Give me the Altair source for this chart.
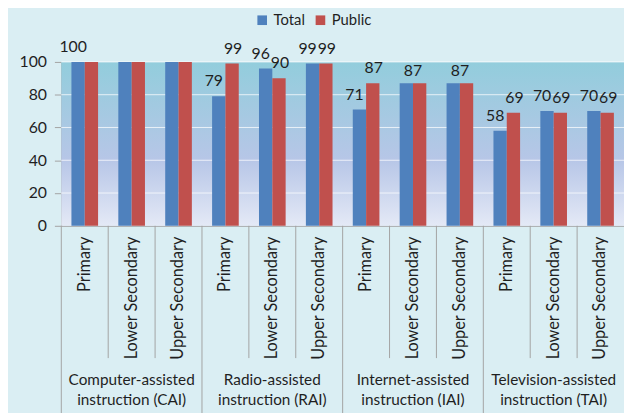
import altair as alt
import pandas as pd

# ---------------- data ----------------
group_keys = ["CAI", "RAI", "IAI", "TAI"]
group_names = [
    "Computer-assisted\ninstruction (CAI)",
    "Radio-assisted\ninstruction (RAI)",
    "Internet-assisted\ninstruction (IAI)",
    "Television-assisted\ninstruction (TAI)",
]
levels = ["Primary", "Lower Secondary", "Upper Secondary"]
series = ["Total", "Public"]
colors = ["#4F81BD", "#C0504D"]

total = [100, 100, 100, 79, 96, 99, 71, 87, 87, 58, 70, 70]
public = [100, 100, 100, 99, 90, 99, 87, 87, 87, 69, 69, 69]

# data labels as shown in the picture (None = not shown)
total_labels = [100, None, None, 79, 96, 99, 71, None, None, 58, 70, 70]
public_labels = [None, None, None, 99, 90, 99, 87, None, None, 69, 69, 69]
shared_labels = [None, None, None, None, None, None, None, 87, 87, None, None, None]

y_ticks = [0, 20, 40, 60, 80, 100]
grid_values = [20, 40, 60, 80, 100]

# ---------------- tables ----------------
cats = [f"{g}|{l}" for g in group_keys for l in levels]
cat_df = pd.DataFrame({
    "cat": cats,
    "group": [g for g in group_keys for _ in levels],
    "level": [l for _ in group_keys for l in levels],
})

bars_df = pd.DataFrame(
    [{"cat": c, "series": "Total", "value": v} for c, v in zip(cats, total)]
    + [{"cat": c, "series": "Public", "value": v} for c, v in zip(cats, public)]
)

tl_df = pd.DataFrame([{"cat": c, "series": "Total", "value": v}
                      for c, v in zip(cats, total_labels) if v is not None])
pl_df = pd.DataFrame([{"cat": c, "series": "Public", "value": v}
                      for c, v in zip(cats, public_labels) if v is not None])
sl_df = pd.DataFrame([{"cat": c, "value": v}
                      for c, v in zip(cats, shared_labels) if v is not None])

group_df = pd.DataFrame({
    "cat": [f"{g}|{levels[1]}" for g in group_keys],
    "name": group_names,
})
grid_df = pd.DataFrame({"value": grid_values})

W, H = 570, 166
FONT = "Lato"
TXT = "#1f1f1f"
LINE = "#a3a3a3"

xscale = alt.Scale(domain=cats, paddingInner=0, paddingOuter=0)
xoscale = alt.Scale(domain=series, paddingInner=0, paddingOuter=0.76)
yscale = alt.Scale(domain=[0, 100], nice=False)
xaxis = alt.Axis(labels=False, ticks=False, title=None, domainColor=LINE, grid=False)
yaxis = alt.Axis(values=y_ticks, title=None, grid=False, domainColor=LINE,
                 tickColor=LINE, tickSize=7, labelPadding=8, labelOverlap=False,
                 labelFlush=False, labelBound=False,
                 labelFontSize=16, labelFont=FONT, labelColor=TXT)


def X(**kw):
    return alt.X("cat:N", scale=xscale, sort=cats, axis=xaxis, **kw)


def Y():
    return alt.Y("value:Q", scale=yscale, axis=yaxis)


XO = alt.XOffset("series:N", scale=xoscale, sort=series)

gradient = alt.Gradient(
    gradient="linear",
    stops=[
        alt.GradientStop(color="#92CDDC", offset=0),
        alt.GradientStop(color="#B7C6E7", offset=0.6),
        alt.GradientStop(color="#E4E9F6", offset=1),
    ],
    x1=0, x2=0, y1=0, y2=1,
)

bg = alt.Chart(pd.DataFrame({"a": [0]})).mark_rect(fill=gradient).encode(
    x=alt.value(0), x2=alt.value(W), y=alt.value(0), y2=alt.value(H)
)

grid = alt.Chart(grid_df).mark_rule(color="#ffffff", opacity=0.75, strokeWidth=1).encode(
    y=Y()
)

bars = alt.Chart(bars_df).mark_bar().encode(
    x=X(), xOffset=XO, y=Y(),
    color=alt.Color("series:N", scale=alt.Scale(domain=series, range=colors),
                    legend=alt.Legend(title=None, orient="none", direction="horizontal",
                                      legendX=196, legendY=-50, symbolType="square",
                                      symbolSize=95, symbolStrokeWidth=0, labelFontSize=15,
                                      labelFont=FONT, labelColor=TXT, labelOffset=4,
                                      columnPadding=8)),
)

tlab = alt.Chart(tl_df).mark_text(dy=-15, dx=-5, fontSize=16, font=FONT, color=TXT,
                                  baseline="middle").encode(
    x=X(), xOffset=XO, y=Y(), text="value:Q")

plab = alt.Chart(pl_df).mark_text(dy=-15, dx=1, fontSize=16, font=FONT, color=TXT,
                                  baseline="middle").encode(
    x=X(), xOffset=XO, y=Y(), text="value:Q")

slab = alt.Chart(sl_df).mark_text(dy=-12, fontSize=16, font=FONT, color=TXT,
                                  baseline="middle").encode(
    x=X(), y=Y(), text="value:Q")

level_sep = alt.Chart(cat_df).transform_filter(
    alt.datum.level != levels[0]
).mark_rule(color=LINE, strokeWidth=1).encode(
    x=X(bandPosition=0), y=alt.value(H), y2=alt.value(H + 134))

group_sep = alt.Chart(cat_df).transform_filter(
    alt.datum.level == levels[0]
).mark_rule(color=LINE, strokeWidth=1).encode(
    x=X(bandPosition=0), y=alt.value(H), y2=alt.value(H + 200))

level_text = alt.Chart(cat_df).mark_text(angle=270, align="right", baseline="middle",
                                         fontSize=16.5, font=FONT, color=TXT).encode(
    x=X(), y=alt.value(H + 11), text="level:N")

group_text = alt.Chart(group_df).mark_text(align="center", baseline="middle", lineBreak="\n",
                                           lineHeight=21, fontSize=15.5, font=FONT,
                                           color=TXT).encode(
    x=X(), y=alt.value(H + 156), text="name:N")

chart = alt.layer(
    bg, grid, bars, tlab, plab, slab, level_sep, group_sep, level_text, group_text
).properties(
    width=W, height=H,
    autosize="none",
    padding={"left": 54, "top": 52, "right": 0, "bottom": 187},
    background="#DAEEF3",
).configure_view(strokeWidth=0)

chart.save("out.html", embed_options={"renderer": "svg", "actions": False})
